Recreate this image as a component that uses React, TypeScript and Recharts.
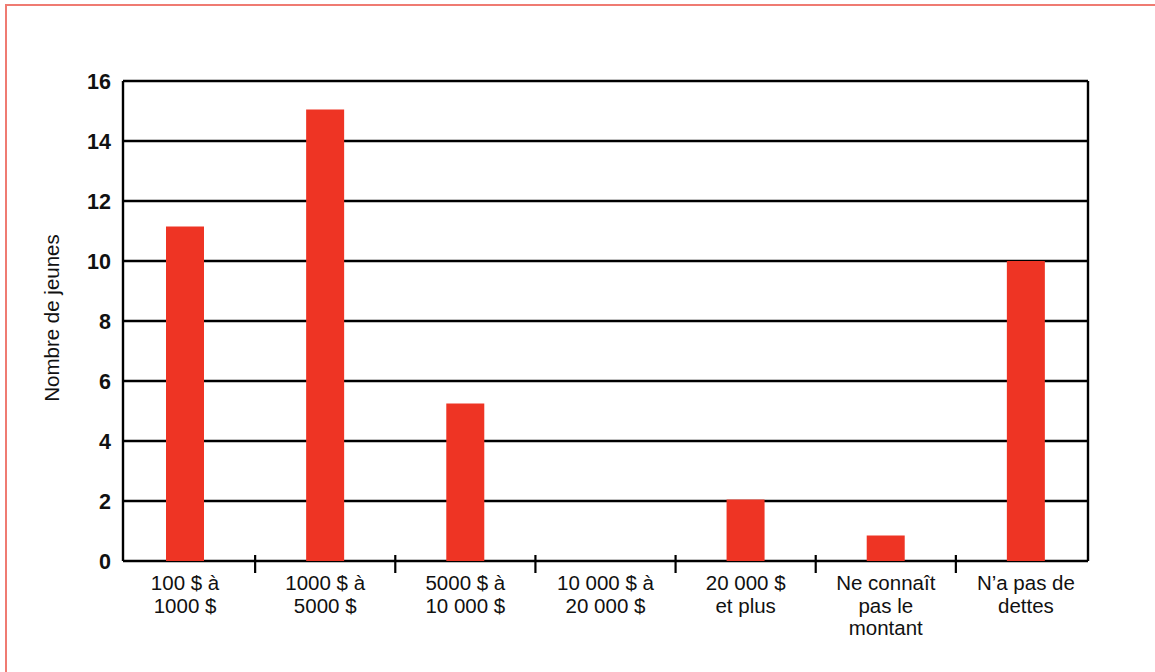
import React from "react";
import { BarChart, Bar, XAxis, YAxis, CartesianGrid } from "recharts";

const categories = [
  "100 $ à\n1000 $",
  "1000 $ à\n5000 $",
  "5000 $ à\n10 000 $",
  "10 000 $ à\n20 000 $",
  "20 000 $\net plus",
  "Ne connaît\npas le\nmontant",
  "N’a pas de\ndettes",
];
const youthCounts = [11.15, 15.05, 5.25, 0, 2.05, 0.85, 10];
const yTicks = [0, 2, 4, 6, 8, 10, 12, 14, 16];

const data = categories.map((label, i) => ({ label, value: youthCounts[i] }));

const WIDTH = 1155;
const HEIGHT = 672;
const FONT = "'Liberation Sans', Arial, Helvetica, sans-serif";

const CategoryTick = (props: any) => {
  const { x, y, payload, index } = props;
  const lines = String(payload.value).split("\n");
  const half = payload.offset ?? 0;
  return (
    <g>
      {index < categories.length - 1 && (
        <line
          x1={x + half}
          x2={x + half}
          y1={y - 6}
          y2={y + 12}
          stroke="#000"
          strokeWidth={2.2}
        />
      )}
      <text
        x={x}
        y={y + 29}
        textAnchor="middle"
        fill="#111"
        fontSize={20.5}
        fontFamily={FONT}
      >
        {lines.map((line, i) => (
          <tspan key={i} x={x} dy={i === 0 ? 0 : 22.5}>
            {line}
          </tspan>
        ))}
      </text>
    </g>
  );
};

const CountTick = (props: any) => {
  const { x, y, payload } = props;
  return (
    <text
      x={x}
      y={y}
      dy="0.36em"
      textAnchor="end"
      fill="#111"
      fontSize={21.5}
      fontWeight="bold"
      fontFamily={FONT}
    >
      {payload.value}
    </text>
  );
};

const AxisTitle = (props: any) => {
  const vb = props.viewBox || { x: 0 };
  const cx = vb.x + 51;
  const cy = 318;
  return (
    <text
      x={cx}
      y={cy}
      transform={`rotate(-90 ${cx} ${cy})`}
      textAnchor="middle"
      dominantBaseline="central"
      fill="#111"
      fontSize={20.5}
      fontFamily={FONT}
    >
      Nombre de jeunes
    </text>
  );
};

export default function App() {
  return (
    <div
      style={{
        position: "absolute",
        top: 0,
        left: 0,
        width: WIDTH,
        height: HEIGHT,
        background: "#fff",
        overflow: "hidden",
      }}
    >
      {/* thin frame along the top and left edges */}
      <div
        style={{
          position: "absolute",
          left: 5,
          top: 4,
          width: WIDTH - 5,
          height: 2,
          background: "#ef7b72",
        }}
      />
      <div
        style={{
          position: "absolute",
          left: 5,
          top: 4,
          width: 2,
          height: HEIGHT - 4,
          background: "#ef7b72",
        }}
      />
      <BarChart
        width={WIDTH}
        height={HEIGHT}
        data={data}
        margin={{ top: 81, right: 67, bottom: 0, left: 0 }}
        style={{ position: "absolute", top: 0, left: 0 }}
      >
        <CartesianGrid
          stroke="#000"
          strokeWidth={2.4}
          verticalPoints={[123, 1088]}
        />
        <XAxis
          dataKey="label"
          height={111}
          padding={{ left: -8, right: -8 }}
          axisLine={false}
          tickLine={false}
          tickSize={0}
          tickMargin={0}
          interval={0}
          tick={<CategoryTick />}
        />
        <YAxis
          width={123}
          domain={[0, 16]}
          ticks={yTicks}
          axisLine={false}
          tickLine={false}
          tickSize={0}
          tickMargin={12}
          tick={<CountTick />}
          label={<AxisTitle />}
        />
        <Bar
          dataKey="value"
          fill="#ee3424"
          barSize={38}
          isAnimationActive={false}
        />
      </BarChart>
    </div>
  );
}
